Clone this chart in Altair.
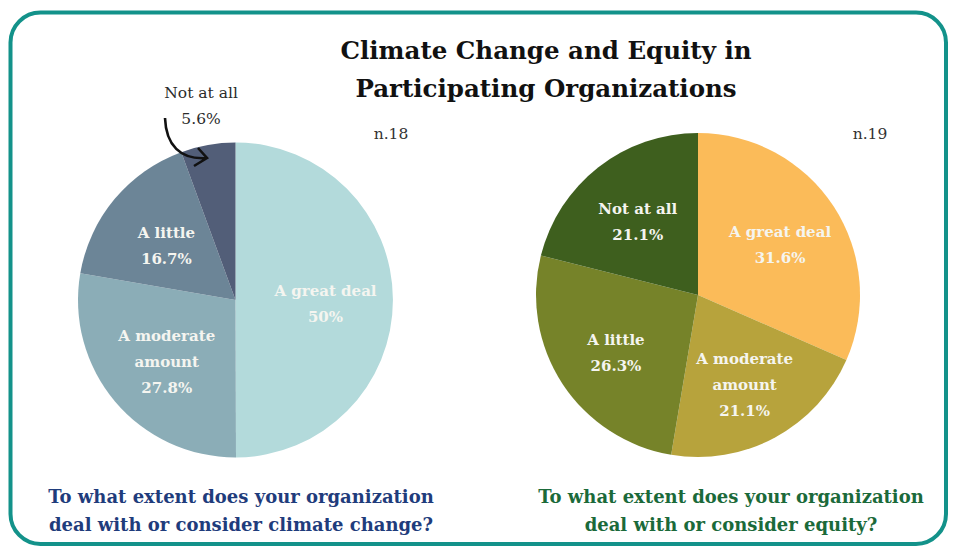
import altair as alt
import pandas as pd

categories = ["A great deal", "A moderate amount", "A little", "Not at all"]
climate_pct = [50, 27.8, 16.7, 5.6]
equity_pct = [31.6, 21.1, 26.3, 21.1]
climate_colors = ["#b3dadb", "#8badb7", "#6c8597", "#525e78"]
equity_colors = ["#fbbb59", "#b7a33c", "#768329", "#3e5f1e"]
title_lines = ["Climate Change and Equity in", "Participating Organizations"]
climate_n = "n.18"
equity_n = "n.19"
climate_question = ["To what extent does your organization", "deal with or consider climate change?"]
equity_question = ["To what extent does your organization", "deal with or consider equity?"]
label_breaks = {"A moderate amount": "A moderate\namount"}

FONT = "DejaVu Serif"
TEAL = "#13928a"
LH = 26


def frame(pcts):
    labels = [label_breaks.get(c, c) + "\n" + f"{p:g}%" for c, p in zip(categories, pcts)]
    return pd.DataFrame({
        "cat": categories,
        "idx": list(range(len(categories))),
        "pct": pcts,
        "label": labels,
        "nlines": [s.count("\n") + 1 for s in labels],
    })


def pie(pcts, colors, cx, cy, r, label_r, outer_r):
    base = alt.Chart(frame(pcts)).encode(
        theta=alt.Theta("pct:Q", stack=True),
        order=alt.Order("idx:Q"),
        x=alt.value(cx),
        y=alt.value(cy),
    )
    arcs = base.mark_arc(radius=r).encode(
        color=alt.Color("cat:N", scale=alt.Scale(domain=categories, range=colors), legend=None)
    )
    layers = [arcs]
    for n in (2, 3):
        layers.append(
            base.transform_calculate(
                t=f"datum.pct >= 10 && datum.nlines == {n} ? datum.label : ''"
            ).mark_text(
                radius=label_r, font=FONT, fontSize=15, fontWeight="bold", color="#f5f5f0",
                lineBreak="\n", lineHeight=LH, baseline="middle", align="center",
                dy=-(n - 1) * LH / 2 + 4,
            ).encode(text="t:N", detail="cat:N")
        )
    layers.append(
        base.transform_calculate(
            t="datum.pct < 10 ? datum.label : ''"
        ).mark_text(
            radius=outer_r, font=FONT, fontSize=15.5, fontWeight="normal", color="#2b2b2b",
            lineBreak="\n", lineHeight=LH, baseline="middle", align="center", dy=-LH / 2,
        ).encode(text="t:N", detail="cat:N")
    )
    return alt.layer(*layers)


one = pd.DataFrame({"k": [0]})

border = alt.Chart(one).mark_rect(
    cornerRadius=30, fillOpacity=0, stroke=TEAL, strokeWidth=4
).encode(x=alt.value(2.5), x2=alt.value(938), y=alt.value(4.5), y2=alt.value(536))

title = alt.Chart(one).mark_text(
    font=FONT, fontSize=24.5, fontWeight="bold", color="#111111",
    align="center", baseline="alphabetic", lineHeight=38,
).encode(x=alt.value(538), y=alt.value(51), text=alt.value(title_lines))

n_left = alt.Chart(one).mark_text(
    font=FONT, fontSize=15.5, color="#333333", align="center", baseline="alphabetic"
).encode(x=alt.value(383), y=alt.value(131), text=alt.value(climate_n))
n_right = alt.Chart(one).mark_text(
    font=FONT, fontSize=15.5, color="#333333", align="center", baseline="alphabetic"
).encode(x=alt.value(862), y=alt.value(131), text=alt.value(equity_n))

q_left = alt.Chart(one).mark_text(
    font=FONT, fontSize=18, fontWeight="bold", color="#1f3c7c",
    align="center", baseline="alphabetic", lineHeight=28,
).encode(x=alt.value(233), y=alt.value(495), text=alt.value(climate_question))
q_right = alt.Chart(one).mark_text(
    font=FONT, fontSize=18, fontWeight="bold", color="#1b6a3a",
    align="center", baseline="alphabetic", lineHeight=28,
).encode(x=alt.value(723), y=alt.value(495), text=alt.value(equity_question))

arrow_path = "M-0.84,-1 C-0.8,0.08 -0.24,0.68 0.84,0.6 M0.48,0.2 L0.84,0.6 L0.32,0.92"
arrow = alt.Chart(one).mark_point(
    shape=arrow_path, filled=False, stroke="#111111", strokeWidth=2.6, size=2500, opacity=1
).encode(x=alt.value(178), y=alt.value(135))

left_pie = pie(climate_pct, climate_colors, 227.5, 292, 157.5, 90, 197)
right_pie = pie(equity_pct, equity_colors, 690, 287, 162, 98, 200)

chart = alt.layer(
    left_pie, right_pie, border, title, n_left, n_right, q_left, q_right, arrow
).resolve_scale(
    color="independent", theta="independent"
).properties(
    width=940, height=538, autosize=alt.AutoSizeParams(type="none"), padding=0, background="white"
).configure_view(stroke=None)

chart.save("out.html", embed_options={"renderer": "svg", "actions": False})
